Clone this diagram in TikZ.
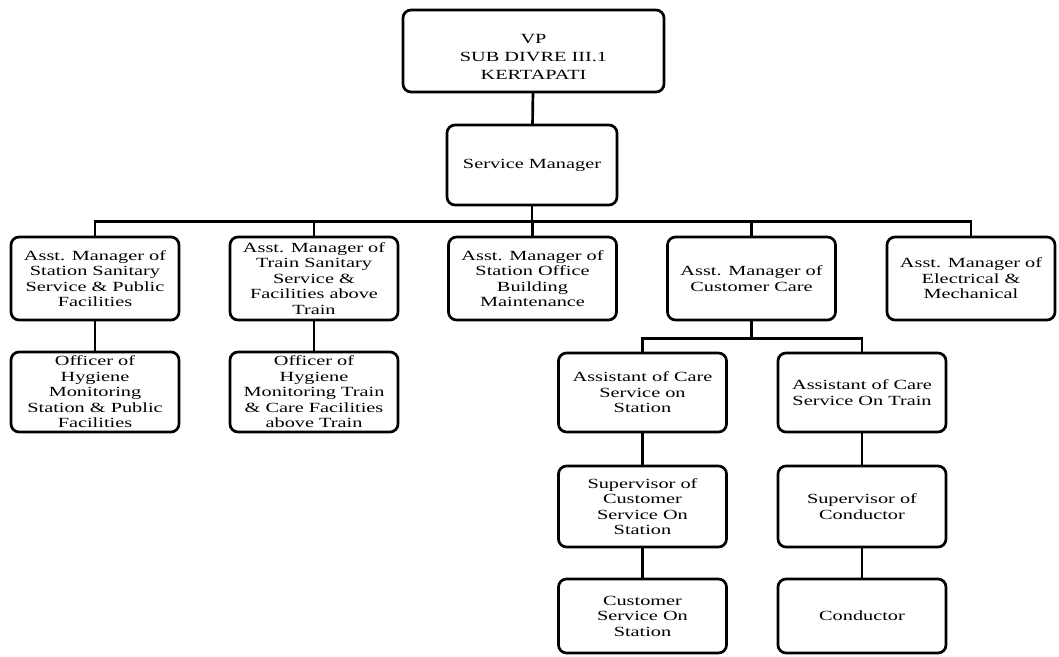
\documentclass[tikz,border=0pt]{standalone}
\usepackage{fontspec}
\setmainfont{Liberation Serif}[FakeStretch=1.45]
\usepackage{tikz}

\tikzset{
  orgbox/.style={draw, line width=2.7pt, rounded corners=8pt, align=center,
    minimum width=168pt, minimum height=81pt, inner sep=2pt,
    font=\fontsize{14}{15.5}\selectfont},
  orgline/.style={line width=2.7pt}
}

\begin{document}
\begin{tikzpicture}[x=1pt, y=1pt, line cap=round]
  \useasboundingbox (0,0) rectangle (1059,656);
  % top of the chart
  \node[orgbox, minimum width=261pt, minimum height=82pt,
    label={[align=center, yshift=-6pt, font=\fontsize{14}{18}\selectfont]center:VP\\SUB DIVRE III.1\\KERTAPATI}]
    (vp) at (533.5,605) {};
  \node[orgbox, minimum width=170pt, minimum height=80pt] (sm) at (532,491) {Service Manager};
  % assistant managers
  \node[orgbox, minimum height=83pt] (am1) at (95,377.5)
    {Asst. Manager of\\Station Sanitary\\Service \& Public\\Facilities};
  \node[orgbox, minimum height=83pt] (am2) at (314,377.5)
    {Asst. Manager of\\Train Sanitary\\Service \&\\Facilities above\\Train};
  \node[orgbox, minimum height=83pt] (am3) at (532.5,377.5)
    {Asst. Manager of\\Station Office\\Building\\Maintenance};
  \node[orgbox, minimum height=83pt] (am4) at (751.5,377.5)
    {Asst. Manager of\\Customer Care};
  \node[orgbox, minimum height=83pt] (am5) at (971,377.5)
    {Asst. Manager of\\Electrical \&\\Mechanical};
  % officers
  \node[orgbox, minimum height=80pt] (off1) at (95,264)
    {Officer of\\Hygiene\\Monitoring\\Station \& Public\\Facilities};
  \node[orgbox, minimum height=80pt] (off2) at (314,264)
    {Officer of\\Hygiene\\Monitoring Train\\\& Care Facilities\\above Train};
  % customer care branch
  \node[orgbox, minimum height=79pt] (asst1) at (642.5,263.5)
    {Assistant of Care\\Service on\\Station};
  \node[orgbox, minimum height=79pt] (asst2) at (862,263.5)
    {Assistant of Care\\Service On Train};
  \node[orgbox] (sup1) at (642.5,149.5)
    {Supervisor of\\Customer\\Service On\\Station};
  \node[orgbox] (sup2) at (862,149.5)
    {Supervisor of\\Conductor};
  \node[orgbox, minimum height=74pt] (cs1) at (642.5,40)
    {Customer\\Service On\\Station};
  \node[orgbox, minimum height=74pt] (cs2) at (862,40) {Conductor};
  % connectors
  \draw[orgline] (vp) -- (sm);
  \foreach \n in {am1,am2,am3,am4,am5}{
    \draw[orgline] (sm.south) -- ++(0,-15) -| (\n.north);
  }
  \foreach \n in {asst1,asst2}{
    \draw[orgline] (am4.south) -- ++(0,-17) -| (\n.north);
  }
  \draw[orgline] (am1) -- (off1);
  \draw[orgline] (am2) -- (off2);
  \draw[orgline] (asst1) -- (sup1) -- (cs1);
  \draw[orgline] (asst2) -- (sup2) -- (cs2);
\end{tikzpicture}
\end{document}
